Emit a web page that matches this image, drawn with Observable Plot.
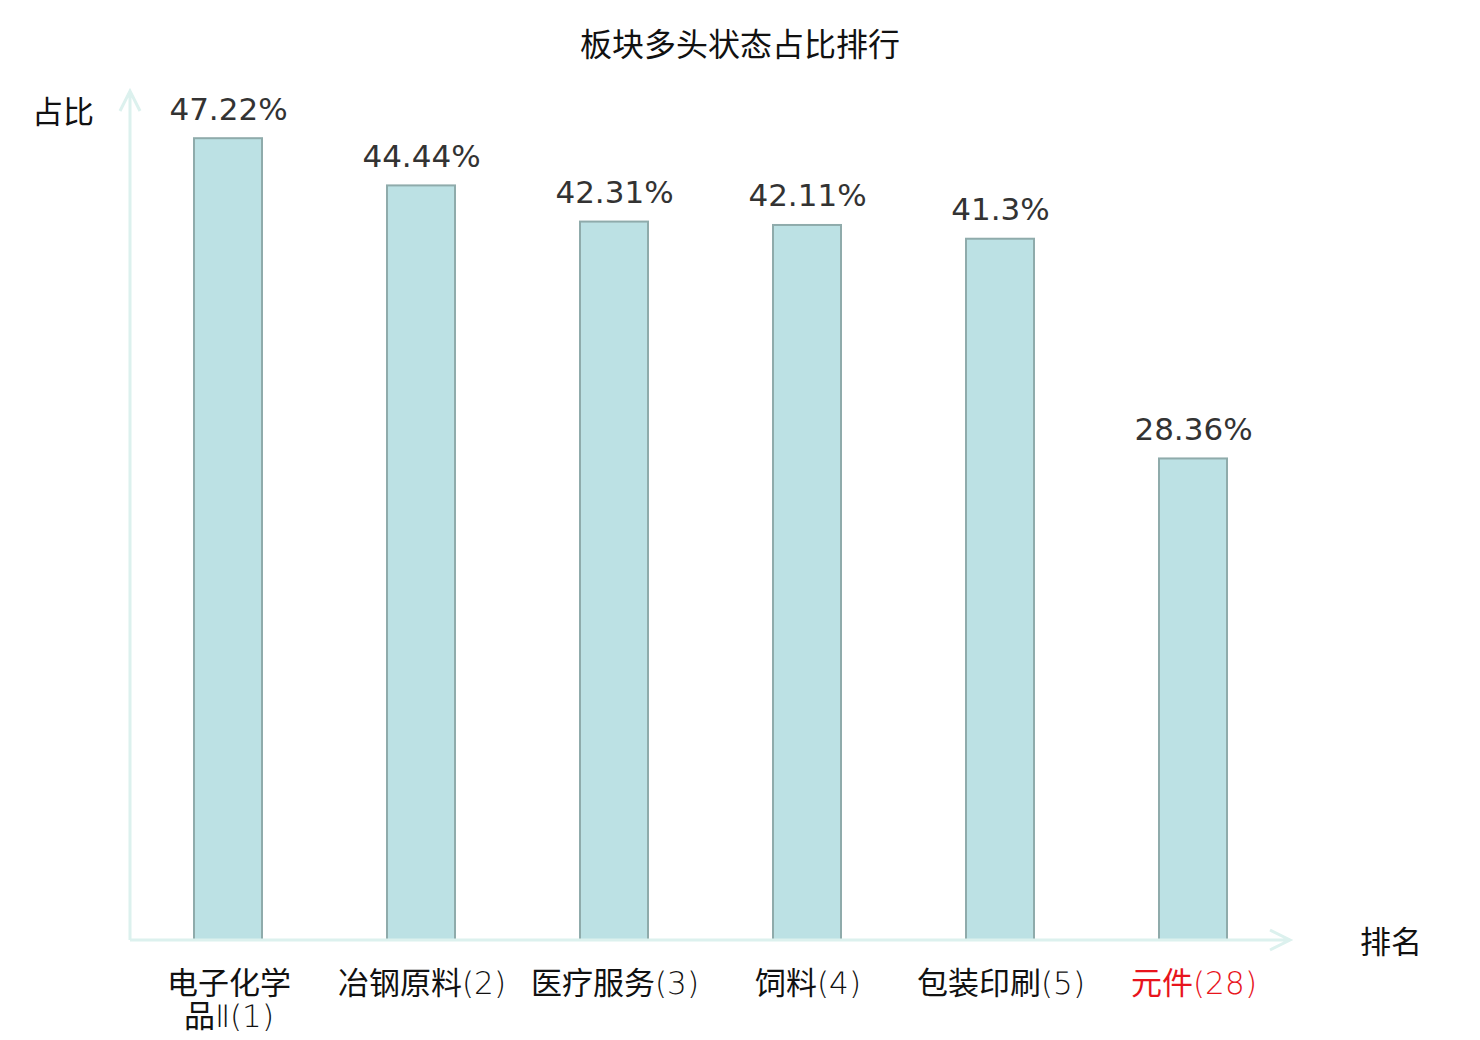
<!DOCTYPE html>
<html>
<head>
<meta charset="utf-8">
<script src="https://cdn.jsdelivr.net/npm/d3@7"></script>
<script src="https://cdn.jsdelivr.net/npm/@observablehq/plot@0.6"></script>
<style>
  @font-face {
    font-family: "TickFont";
    src: local("DejaVu Sans ExtraLight"), local("DejaVuSans-ExtraLight");
  }
  @font-face {
    font-family: "TickFont";
    src: local("Noto Sans CJK SC"), local("Noto Sans CJK SC Regular"), local("NotoSansCJKsc-Regular");
    unicode-range: U+2E80-2FFF, U+3000-9FFF, U+F900-FAFF, U+FF00-FFEF;
  }
  body { margin: 0; background: #fff; }
  #title { height: 70px; text-align: center; font: 32px "Noto Sans CJK SC", sans-serif; line-height: 84px; color: #111; }
  #chart svg { display: block; }
</style>
</head>
<body>
<div id="title">板块多头状态占比排行</div>
<div id="chart"></div>
<script>
const categories = ["电子化学品Ⅱ(1)", "冶钢原料(2)", "医疗服务(3)", "饲料(4)", "包装印刷(5)", "元件(28)"];
const tickLine1 = ["电子化学", "冶钢原料(2)", "医疗服务(3)", "饲料(4)", "包装印刷(5)", "元件(28)"];
const tickLine2 = ["品Ⅱ(1)", "", "", "", "", ""];
const values = [47.22, 44.44, 42.31, 42.11, 41.3, 28.36];
const valueLabels = ["47.22%", "44.44%", "42.31%", "42.11%", "41.3%", "28.36%"];
const highlighted = ["元件(28)"];

const data = categories.map((c, i) => ({cat: c, value: values[i], label: valueLabels[i], t1: tickLine1[i], t2: tickLine2[i]}));
const axisColor = "#dcf1ee";
const tickFont = "TickFont, 'DejaVu Sans', 'Noto Sans CJK SC', sans-serif";

function arrows(index, scales, values, dims) {
  const ns = "http://www.w3.org/2000/svg";
  const g = document.createElementNS(ns, "g");
  const x0 = dims.marginLeft, yTop = dims.marginTop;
  const xR = dims.width - dims.marginRight, yB = dims.height - dims.marginBottom;
  const mk = (d) => {
    const p = document.createElementNS(ns, "path");
    p.setAttribute("d", d);
    p.setAttribute("fill", "none");
    p.setAttribute("stroke", axisColor);
    p.setAttribute("stroke-width", 3);
    g.appendChild(p);
  };
  mk(`M${x0},${yB}V${yTop}M${x0 - 10},${yTop + 20}L${x0},${yTop}L${x0 + 10},${yTop + 20}`);
  mk(`M${x0},${yB}H${xR}M${xR - 20},${yB - 10}L${xR},${yB}L${xR - 20},${yB + 10}`);
  const label = (txt, x, y) => {
    const t = document.createElementNS(ns, "text");
    t.textContent = txt;
    t.setAttribute("x", x); t.setAttribute("y", y);
    t.setAttribute("text-anchor", "middle"); t.setAttribute("dominant-baseline", "central");
    t.setAttribute("font-size", 31); t.setAttribute("fill", "#111");
    t.setAttribute("font-family", "Noto Sans CJK SC, sans-serif");
    g.appendChild(t);
  };
  label("占比", 63, yTop + 18);
  label("排名", xR + 101, yB - 1);
  return g;
}

const chart = Plot.plot({
  width: 1480,
  height: 970,
  marginLeft: 130,
  marginRight: 190,
  marginTop: 21,
  marginBottom: 100,
  x: {domain: categories, paddingInner: 0.65, paddingOuter: 0.325, axis: null},
  y: {domain: [0, 50], axis: null},
  marks: [
    Plot.barY(data, {x: "cat", y: "value", fill: "#bce1e4", stroke: "#8fabab", strokeWidth: 2}),
    Plot.text(data, {x: "cat", y: "value", text: "label", dy: -29, fontSize: 31, fill: "#333",
      fontFamily: "DejaVu Sans, sans-serif"}),
    Plot.text(data, {x: "cat", text: "t1", frameAnchor: "bottom", dy: 53,
      fontSize: 31, fontFamily: tickFont,
      fill: d => highlighted.includes(d.cat) ? "#e8141c" : "#111"}),
    Plot.text(data, {x: "cat", text: "t2", frameAnchor: "bottom", dy: 86,
      fontSize: 31, fontFamily: tickFont,
      fill: d => highlighted.includes(d.cat) ? "#e8141c" : "#111"}),
    arrows
  ]
});
document.getElementById("chart").appendChild(chart);
</script>
</body>
</html>
